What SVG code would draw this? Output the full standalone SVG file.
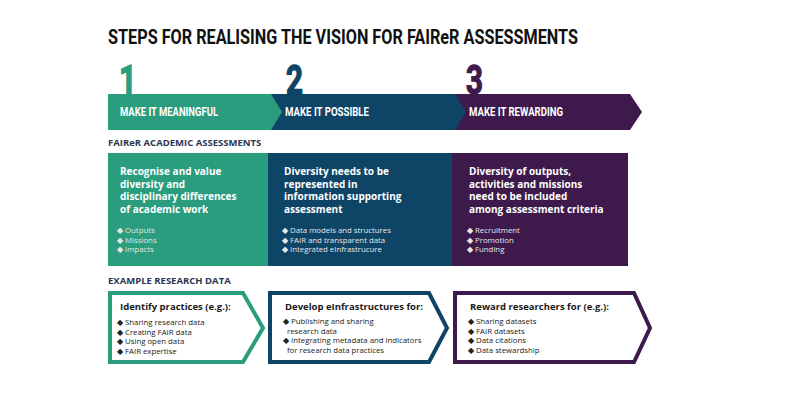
<svg xmlns="http://www.w3.org/2000/svg" width="800" height="400" viewBox="0 0 800 400">
<style>
.title{font-family:Roboto,"Liberation Sans",sans-serif;font-weight:bold;font-size:21px;fill:#111}
.num{font-family:Roboto,"Liberation Sans",sans-serif;font-weight:bold;font-size:41px;stroke-width:1.4}
.stage{font-family:Roboto,"Liberation Sans",sans-serif;font-weight:bold;font-size:12px;fill:#fff}
.sec{font-family:"Open Sans","Liberation Sans",sans-serif;font-weight:bold;font-size:9.5px;fill:#2b3553}
.ph{font-family:"Open Sans","Liberation Sans",sans-serif;font-weight:bold;font-size:10px;fill:#fff}
.pb{font-family:"Open Sans","Liberation Sans",sans-serif;font-size:7.8px;fill:#e6e6e6}
.bh{font-family:"Open Sans","Liberation Sans",sans-serif;font-weight:bold;font-size:9.5px;fill:#1a1a1a}
.bb{font-family:"Open Sans","Liberation Sans",sans-serif;font-size:7.8px;fill:#222}
.box{fill:#fff;stroke-width:4;stroke-linejoin:miter}
</style>
<rect width="800" height="400" fill="#fff"/>
<text class="title" x="108" y="44" textLength="470" lengthAdjust="spacingAndGlyphs">STEPS FOR REALISING THE VISION FOR FAIReR ASSESSMENTS</text>

<g id="step3">
<polygon points="450,94 630,94 642,112 630,130 450,130" fill="#3d1a4b"/>
<text class="num" transform="translate(466,94) scale(0.72,1)" fill="#3d1a4b" stroke="#3d1a4b">3</text>
<text class="stage" x="469" y="116" textLength="94" lengthAdjust="spacingAndGlyphs">MAKE IT REWARDING</text>
</g>
<g id="step2">
<polygon points="265,94 455,94 466,112 455,130 265,130" fill="#0e4466"/>
<text class="num" transform="translate(286,94) scale(0.72,1)" fill="#0e4466" stroke="#0e4466">2</text>
<text class="stage" x="285" y="116" textLength="84" lengthAdjust="spacingAndGlyphs">MAKE IT POSSIBLE</text>
</g>
<g id="step1">
<polygon points="108,94 271,94 282,112 271,130 108,130" fill="#2a9d7e"/>
<text class="num" transform="translate(119,94) scale(0.75,1)" fill="#2a9d7e" stroke="#2a9d7e">1</text>
<text class="stage" x="120" y="116" textLength="98" lengthAdjust="spacingAndGlyphs">MAKE IT MEANINGFUL</text>
</g>

<text class="sec" x="108" y="146">FAIReR ACADEMIC ASSESSMENTS</text>

<g id="panel1">
<rect x="108" y="153" width="160" height="113" fill="#2a9d7e"/>
<text class="ph"><tspan x="120" y="175">Recognise and value</tspan><tspan x="120" y="187.5">diversity and</tspan><tspan x="120" y="200">disciplinary differences</tspan><tspan x="120" y="212.5">of academic work</tspan></text>
<text class="pb"><tspan x="117" y="233">◆ Outputs</tspan><tspan x="117" y="242.5">◆ Missions</tspan><tspan x="117" y="252">◆ Impacts</tspan></text>
</g>
<g id="panel2">
<rect x="268" y="153" width="184" height="113" fill="#0e4466"/>
<text class="ph"><tspan x="284" y="175">Diversity needs to be</tspan><tspan x="284" y="187.5">represented in</tspan><tspan x="284" y="200">information supporting</tspan><tspan x="284" y="212.5">assessment</tspan></text>
<text class="pb"><tspan x="282" y="233">◆ Data models and structures</tspan><tspan x="282" y="242.5">◆ FAIR and transparent data</tspan><tspan x="282" y="252">◆ Integrated eInfrastrucure</tspan></text>
</g>
<g id="panel3">
<rect x="452" y="153" width="176" height="113" fill="#3d1a4b"/>
<text class="ph"><tspan x="469" y="175">Diversity of outputs,</tspan><tspan x="469" y="187.5">activities and missions</tspan><tspan x="469" y="200">need to be included</tspan><tspan x="469" y="212.5">among assessment criteria</tspan></text>
<text class="pb"><tspan x="467" y="233">◆ Recruitment</tspan><tspan x="467" y="242.5">◆ Promotion</tspan><tspan x="467" y="252">◆ Funding</tspan></text>
</g>

<text class="sec" x="108" y="284">EXAMPLE RESEARCH DATA</text>

<g id="box1">
<path class="box" d="M110,293 H243 L263,328 L243,362 H110 Z" stroke="#2a9d7e"/>
<text class="bh" x="120" y="310">Identify practices (e.g.):</text>
<text class="bb"><tspan x="117" y="325">◆ Sharing research data</tspan><tspan x="117" y="334.5">◆ Creating FAIR data</tspan><tspan x="117" y="344">◆ Using open data</tspan><tspan x="117" y="353.5">◆ FAIR expertise</tspan></text>
</g>
<g id="box2">
<path class="box" d="M270,293 H429 L447,328 L429,362 H270 Z" stroke="#0e4466"/>
<text class="bh" x="285" y="310">Develop eInfrastructures for:</text>
<text class="bb"><tspan x="283" y="324">◆ Publishing and sharing</tspan><tspan x="287" y="333.5">research data</tspan><tspan x="283" y="343">◆ Integrating metadata and indicators</tspan><tspan x="287" y="352.5">for research data practices</tspan></text>
</g>
<g id="box3">
<path class="box" d="M455,293 H634 L650,328 L634,362 H455 Z" stroke="#3d1a4b"/>
<text class="bh" x="470" y="310">Reward researchers for (e.g.):</text>
<text class="bb"><tspan x="468" y="324">◆ Sharing datasets</tspan><tspan x="468" y="333.5">◆ FAIR datasets</tspan><tspan x="468" y="343">◆ Data citations</tspan><tspan x="468" y="352.5">◆ Data stewardship</tspan></text>
</g>
</svg>
